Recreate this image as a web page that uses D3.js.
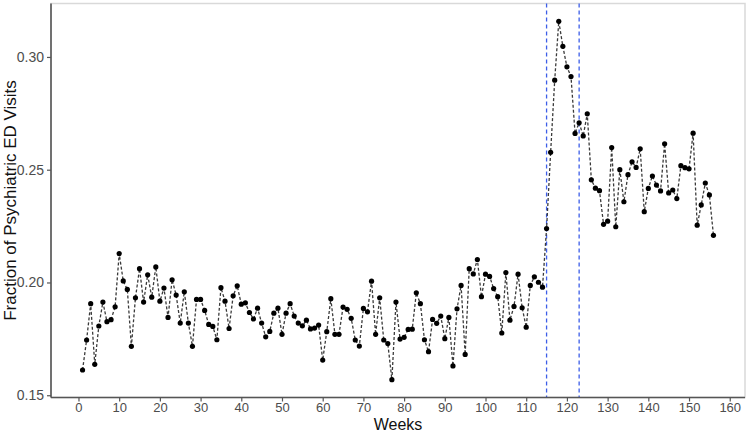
<!DOCTYPE html>
<html>
<head>
<meta charset="utf-8">
<script src="https://cdn.jsdelivr.net/npm/d3@7"></script>
<style>
  html, body { margin: 0; padding: 0; background: #fff; }
  svg { display: block; font-family: "Liberation Sans", Arial, sans-serif; }
</style>
</head>
<body>
<svg id="chart" width="749" height="433"></svg>
<script>
// Weekly fraction of psychiatric ED visits, weeks 1..156
const weeks = d3.range(1, 157);
const fractions = [
  0.1612, 0.1745, 0.1906, 0.1637, 0.1807, 0.1913, 0.1826, 0.1835, 0.1892, 0.2128,
  0.2007, 0.1969, 0.1717, 0.1932, 0.2061, 0.1913, 0.2034, 0.1935, 0.2069, 0.1917,
  0.1975, 0.1845, 0.2012, 0.1944, 0.1820, 0.1959, 0.1820, 0.1717, 0.1925, 0.1925,
  0.1876, 0.1814, 0.1805, 0.1746, 0.1977, 0.1917, 0.1796, 0.1941, 0.1985, 0.1904,
  0.1910, 0.1867, 0.1838, 0.1886, 0.1820, 0.1759, 0.1783, 0.1864, 0.1886, 0.1770,
  0.1864, 0.1906, 0.1851, 0.1820, 0.1808, 0.1833, 0.1794, 0.1798, 0.1811, 0.1656,
  0.1782, 0.1928, 0.1770, 0.1770, 0.1891, 0.1881, 0.1841, 0.1745, 0.1718, 0.1885,
  0.1870, 0.2006, 0.1770, 0.1932, 0.1745, 0.1729, 0.1569, 0.1913, 0.1749, 0.1757,
  0.1792, 0.1793, 0.1954, 0.1906, 0.1746, 0.1693, 0.1836, 0.1819, 0.1851, 0.1751,
  0.1845, 0.1630, 0.1883, 0.1987, 0.1681, 0.2061, 0.2038, 0.2102, 0.1937, 0.2037,
  0.2027, 0.1973, 0.1937, 0.1776, 0.2044, 0.1833, 0.1894, 0.2037, 0.1888, 0.1802,
  0.1987, 0.2025, 0.2001, 0.1979, 0.2239, 0.2577, 0.2897, 0.3158, 0.3047, 0.2956,
  0.2913, 0.2661, 0.2708, 0.2650, 0.2748, 0.2455, 0.2418, 0.2407, 0.2258, 0.2272,
  0.2598, 0.2247, 0.2500, 0.2358, 0.2478, 0.2535, 0.2510, 0.2593, 0.2314, 0.2417,
  0.2472, 0.2432, 0.2406, 0.2615, 0.2397, 0.2410, 0.2372, 0.2518, 0.2509, 0.2504,
  0.2662, 0.2254, 0.2344, 0.2441, 0.2388, 0.2209
];
const xTicks = d3.range(0, 161, 10);
const yTicks = [0.15, 0.20, 0.25, 0.30];
const markerWeeks = [115, 123];

const svg = d3.select("#chart");
const pLeft = 51, pRight = 745, pTop = 3.5, pBottom = 397.5;

const x = d3.scaleLinear().domain([-6.75, 163.75]).range([pLeft, pRight]);
const y = d3.scaleLinear().domain([0.1490, 0.3237]).range([pBottom, pTop]);

const data = weeks.map((w, i) => ({ w, v: fractions[i] }));

// panel border (light grey)
svg.append("rect")
  .attr("x", pLeft).attr("y", pTop)
  .attr("width", pRight - pLeft).attr("height", pBottom - pTop)
  .attr("fill", "none").attr("stroke", "#d9d9d9").attr("stroke-width", 1.5);

// vertical dashed markers
svg.selectAll("line.marker").data(markerWeeks).enter().append("line")
  .attr("class", "marker")
  .attr("x1", d => x(d)).attr("x2", d => x(d))
  .attr("y1", pTop).attr("y2", pBottom)
  .attr("stroke", "#3d5ee8").attr("stroke-width", 1.3)
  .attr("stroke-dasharray", "4,3");

// dashed line
svg.append("path").datum(data)
  .attr("fill", "none").attr("stroke", "#3a3a3a").attr("stroke-width", 1.3)
  .attr("stroke-dasharray", "3,2")
  .attr("d", d3.line().x(d => x(d.w)).y(d => y(d.v)));

// points
svg.selectAll("circle.pt").data(data).enter().append("circle")
  .attr("class", "pt")
  .attr("cx", d => x(d.w)).attr("cy", d => y(d.v))
  .attr("r", 2.6).attr("fill", "#000");

// axes
const xAxis = svg.append("g").attr("transform", `translate(0,${pBottom})`)
  .call(d3.axisBottom(x).tickValues(xTicks).tickSize(4).tickPadding(1).tickFormat(d3.format("d")));
const yAxis = svg.append("g").attr("transform", `translate(${pLeft},0)`)
  .call(d3.axisLeft(y).tickValues(yTicks).tickSize(4).tickPadding(3).tickFormat(d3.format(".2f")));

[xAxis, yAxis].forEach(g => {
  g.select(".domain").attr("stroke", "#555").attr("stroke-width", 1.6);
  g.selectAll(".tick line").attr("stroke", "#555").attr("stroke-width", 1.2);
  g.selectAll(".tick text").attr("fill", "#4d4d4d")
    .style("font-family", "'Liberation Sans', Arial, sans-serif");
});
xAxis.selectAll(".tick text").style("font-size", "13px");
yAxis.selectAll(".tick text").style("font-size", "14px");
xAxis.select(".domain").attr("d", `M${pLeft},0H${pRight}`);
yAxis.select(".domain").attr("d", `M0,${pTop}V${pBottom}`);

// titles
svg.append("text")
  .attr("x", (pLeft + pRight) / 2).attr("y", 429.5)
  .attr("text-anchor", "middle").attr("fill", "#111")
  .style("font-size", "16px").text("Weeks");

svg.append("text")
  .attr("transform", `translate(16,${(pTop + pBottom) / 2}) rotate(-90)`)
  .attr("text-anchor", "middle").attr("fill", "#111")
  .style("font-size", "17px").text("Fraction of Psychiatric ED Visits");
</script>
</body>
</html>
